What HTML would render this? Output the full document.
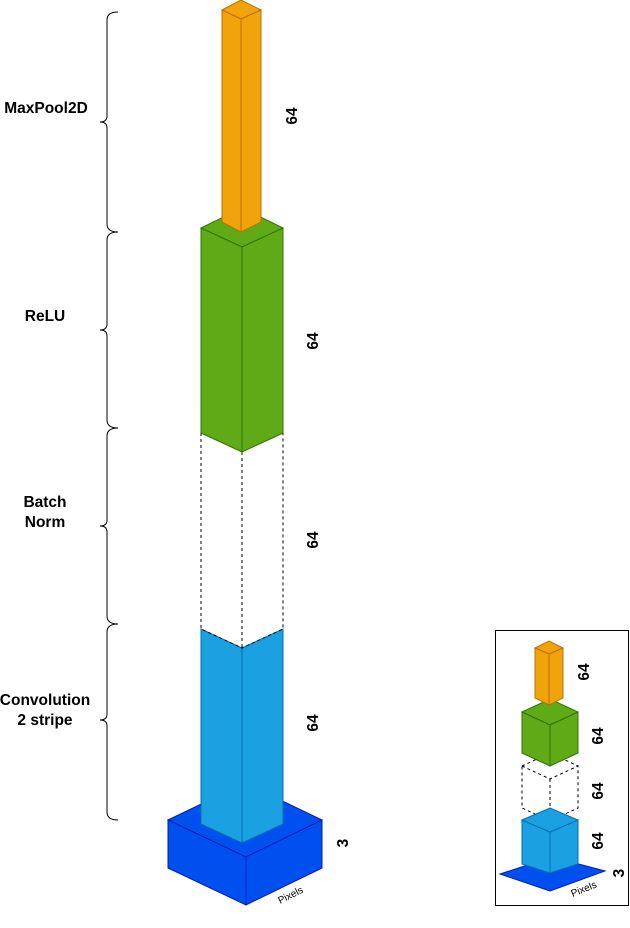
<!DOCTYPE html>
<html><head><meta charset="utf-8"><style>
html,body{margin:0;padding:0;background:#fff}
svg{display:block}
text{font-family:"Liberation Sans",sans-serif;font-weight:bold;font-size:15.5px;fill:#000}
</style></head><body>
<svg width="630" height="928" viewBox="0 0 630 928" xmlns="http://www.w3.org/2000/svg">
<!-- base -->
<polygon points="168,820 245,783 322,820 246,857" fill="#0050ef" stroke="#001dbc" stroke-width="1"/>
<polygon points="168,820 246,857 246,905 168,868" fill="#0050ef" stroke="#001dbc" stroke-width="1"/>
<polygon points="246,857 322,820 322,868 246,905" fill="#0050ef" stroke="#001dbc" stroke-width="1"/>
<!-- blue -->
<polygon points="201,629 242,648 242,843 201,824" fill="#1ba1e2" stroke="#006eaf" stroke-width="1"/>
<polygon points="242,648 283,629 283,824 242,843" fill="#1ba1e2" stroke="#006eaf" stroke-width="1"/>
<!-- dashed -->
<g fill="none" stroke="#000" stroke-dasharray="3,3" stroke-width="1">
<polyline points="201,433 201,629 242,648 283,629 283,433"/>
<line x1="242" y1="452" x2="242" y2="648"/>
</g>
<!-- green -->
<polygon points="201,228 242,208 283,228 242,247" fill="#60a917" stroke="#2d7600" stroke-width="1"/>
<polygon points="201,228 242,247 242,452 201,433" fill="#60a917" stroke="#2d7600" stroke-width="1"/>
<polygon points="242,247 283,228 283,433 242,452" fill="#60a917" stroke="#2d7600" stroke-width="1"/>
<!-- orange -->
<polygon points="222,10 241,0 261,10 241,19" fill="#f0a30a" stroke="#bd7000" stroke-width="1"/>
<polygon points="222,10 241,19 241,232 222,222" fill="#f0a30a" stroke="#bd7000" stroke-width="1"/>
<polygon points="241,19 261,10 261,222 241,232" fill="#f0a30a" stroke="#bd7000" stroke-width="1"/>
<!-- braces -->
<g fill="none" stroke="#000" stroke-width="1">
<path d="M118,12 Q107,12 107,20 L107,116 Q107,122 100,122 Q107,122 107,128 L107,224 Q107,232 118,232"/>
<path d="M118,232 Q107,232 107,240 L107,324 Q107,330 100,330 Q107,330 107,336 L107,420 Q107,428 118,428"/>
<path d="M118,428 Q107,428 107,436 L107,520 Q107,526 100,526 Q107,526 107,532 L107,616 Q107,624 118,624"/>
<path d="M118,624 Q107,624 107,632 L107,714 Q107,720 100,720 Q107,720 107,726 L107,812 Q107,820 118,820"/>
</g>
<text x="46" y="113" text-anchor="middle">MaxPool2D</text>
<text x="45" y="321" text-anchor="middle">ReLU</text>
<text x="45" y="507" text-anchor="middle">Batch</text>
<text x="45" y="527" text-anchor="middle">Norm</text>
<text x="45" y="705" text-anchor="middle">Convolution</text>
<text x="45" y="725" text-anchor="middle">2 stripe</text>
<text transform="translate(297,116) rotate(-90)" text-anchor="middle">64</text>
<text transform="translate(318,341) rotate(-90)" text-anchor="middle">64</text>
<text transform="translate(318,540) rotate(-90)" text-anchor="middle">64</text>
<text transform="translate(318,723) rotate(-90)" text-anchor="middle">64</text>
<text transform="translate(348,843) rotate(-90)" text-anchor="middle">3</text>
<text transform="translate(292,898) rotate(-27)" text-anchor="middle" style="font-weight:normal;font-size:10px">Pixels</text>
<!-- legend box -->
<rect x="495.5" y="630.5" width="133" height="275" fill="#fff" stroke="#000" stroke-width="1"/>
<polygon points="500,874 552,857 605,871 550,891" fill="#0050ef" stroke="#001dbc" stroke-width="1"/>
<g fill="none" stroke="#000" stroke-dasharray="3,3" stroke-width="1">
<polygon points="522,766 550,779 578,766 578,808 550,821 522,808"/>
<line x1="550" y1="779" x2="550" y2="821"/>
<polyline points="522,766 550,753 578,766"/>
</g>
<polygon points="522,820 550,832 550,873 522,864" fill="#1ba1e2" stroke="#006eaf"/>
<polygon points="550,832 578,820 578,864 550,873" fill="#1ba1e2" stroke="#006eaf"/>
<polygon points="522,820 550,808 578,820 550,832" fill="#1ba1e2" stroke="#006eaf"/>
<polygon points="522,712 550,699 578,712 550,725" fill="#60a917" stroke="#2d7600"/>
<polygon points="522,712 550,725 550,766 522,753" fill="#60a917" stroke="#2d7600"/>
<polygon points="550,725 578,712 578,753 550,766" fill="#60a917" stroke="#2d7600"/>
<polygon points="535,648 549,641 563,648 549,654" fill="#f0a30a" stroke="#bd7000"/>
<polygon points="535,648 549,654 549,705 535,698" fill="#f0a30a" stroke="#bd7000"/>
<polygon points="549,654 563,648 563,698 549,705" fill="#f0a30a" stroke="#bd7000"/>
<text transform="translate(589,672) rotate(-90)" text-anchor="middle">64</text>
<text transform="translate(603,736) rotate(-90)" text-anchor="middle">64</text>
<text transform="translate(603,791) rotate(-90)" text-anchor="middle">64</text>
<text transform="translate(603,841) rotate(-90)" text-anchor="middle">64</text>
<text transform="translate(624,873) rotate(-90)" text-anchor="middle">3</text>
<text transform="translate(585,892) rotate(-22)" text-anchor="middle" style="font-weight:normal;font-size:10px">Pixels</text>
</svg>
</body></html>
